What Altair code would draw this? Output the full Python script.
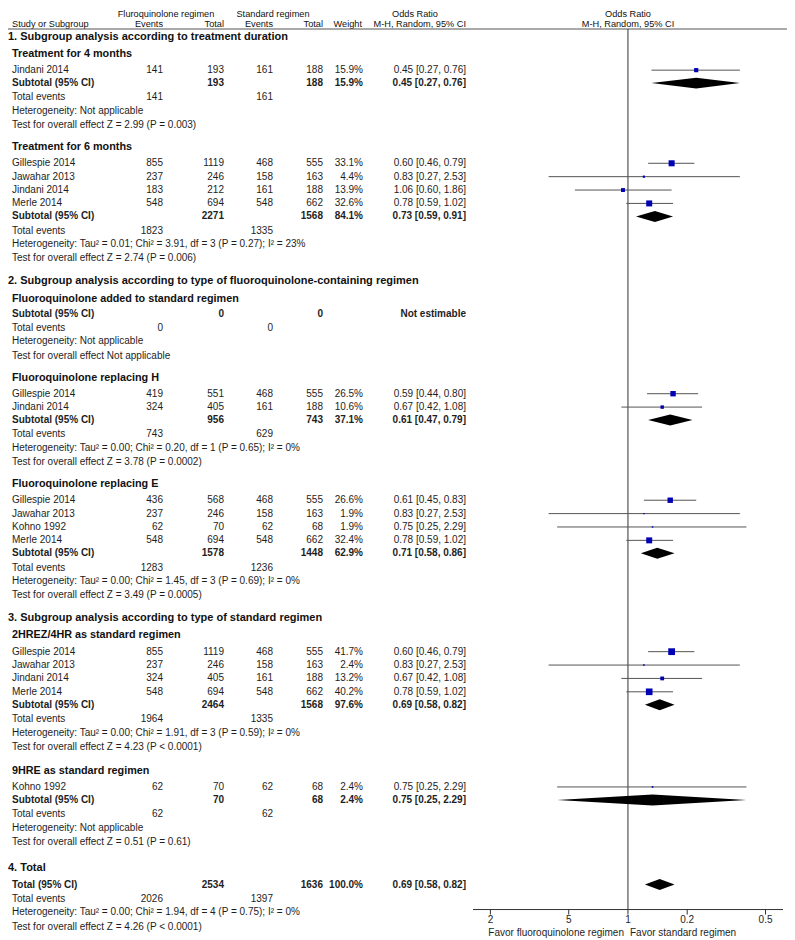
import altair as alt
import pandas as pd

# ------------------------------------------------------------------ data
section_titles = [
    "1. Subgroup analysis according to treatment duration",
    "2. Subgroup analysis according to type of fluoroquinolone-containing regimen",
    "3. Subgroup analysis according to type of standard regimen",
    "4. Total",
]
group_titles = [
    "Treatment for 4 months",
    "Treatment for 6 months",
    "Fluoroquinolone added to standard regimen",
    "Fluoroquinolone replacing H",
    "Fluoroquinolone replacing E",
    "2HREZ/4HR as standard regimen",
    "9HRE as standard regimen",
]
group_section = [0, 0, 1, 1, 1, 2, 2]

study_group = [0, 1, 1, 1, 1, 3, 3, 4, 4, 4, 4, 5, 5, 5, 5, 6]
study_names = ["Jindani 2014",
               "Gillespie 2014", "Jawahar 2013", "Jindani 2014", "Merle 2014",
               "Gillespie 2014", "Jindani 2014",
               "Gillespie 2014", "Jawahar 2013", "Kohno 1992", "Merle 2014",
               "Gillespie 2014", "Jawahar 2013", "Jindani 2014", "Merle 2014",
               "Kohno 1992"]
fq_events = [141, 855, 237, 183, 548, 419, 324, 436, 237, 62, 548, 855, 237, 324, 548, 62]
fq_total = [193, 1119, 246, 212, 694, 551, 405, 568, 246, 70, 694, 1119, 246, 405, 694, 70]
std_events = [161, 468, 158, 161, 548, 468, 161, 468, 158, 62, 548, 468, 158, 161, 548, 62]
std_total = [188, 555, 163, 188, 662, 555, 188, 555, 163, 68, 662, 555, 163, 188, 662, 68]
study_weight = [15.9, 33.1, 4.4, 13.9, 32.6, 26.5, 10.6, 26.6, 1.9, 1.9, 32.4, 41.7, 2.4, 13.2, 40.2, 2.4]
study_or = [0.45, 0.60, 0.83, 1.06, 0.78, 0.59, 0.67, 0.61, 0.83, 0.75, 0.78, 0.60, 0.83, 0.67, 0.78, 0.75]
study_lo = [0.27, 0.46, 0.27, 0.60, 0.59, 0.44, 0.42, 0.45, 0.27, 0.25, 0.59, 0.46, 0.27, 0.42, 0.59, 0.25]
study_hi = [0.76, 0.79, 2.53, 1.86, 1.02, 0.80, 1.08, 0.83, 2.53, 2.29, 1.02, 0.79, 2.53, 1.08, 1.02, 2.29]

sub_fq_total = [193, 2271, 0, 956, 1578, 2464, 70]
sub_std_total = [188, 1568, 0, 743, 1448, 1568, 68]
sub_weight = [15.9, 84.1, None, 37.1, 62.9, 97.6, 2.4]
sub_or = [0.45, 0.73, None, 0.61, 0.71, 0.69, 0.75]
sub_lo = [0.27, 0.59, None, 0.47, 0.58, 0.58, 0.25]
sub_hi = [0.76, 0.91, None, 0.79, 0.86, 0.82, 2.29]
sub_fq_events = [141, 1823, 0, 743, 1283, 1964, 62]
sub_std_events = [161, 1335, 0, 629, 1236, 1335, 62]
sub_het = [
    "Heterogeneity: Not applicable",
    "Heterogeneity: Tau\u00b2 = 0.01; Chi\u00b2 = 3.91, df = 3 (P = 0.27); I\u00b2 = 23%",
    "Heterogeneity: Not applicable",
    "Heterogeneity: Tau\u00b2 = 0.00; Chi\u00b2 = 0.20, df = 1 (P = 0.65); I\u00b2 = 0%",
    "Heterogeneity: Tau\u00b2 = 0.00; Chi\u00b2 = 1.45, df = 3 (P = 0.69); I\u00b2 = 0%",
    "Heterogeneity: Tau\u00b2 = 0.00; Chi\u00b2 = 1.91, df = 3 (P = 0.59); I\u00b2 = 0%",
    "Heterogeneity: Not applicable",
]
sub_test = [
    "Test for overall effect Z = 2.99 (P = 0.003)",
    "Test for overall effect Z = 2.74 (P = 0.006)",
    "Test for overall effect Not applicable",
    "Test for overall effect Z = 3.78 (P = 0.0002)",
    "Test for overall effect Z = 3.49 (P = 0.0005)",
    "Test for overall effect Z = 4.23 (P < 0.0001)",
    "Test for overall effect Z = 0.51 (P = 0.61)",
]

total_label = "Total (95% CI)"
total_fq_total = 2534
total_std_total = 1636
total_weight = 100.0
total_or, total_lo, total_hi = 0.69, 0.58, 0.82
total_fq_events = 2026
total_std_events = 1397
total_het = "Heterogeneity: Tau\u00b2 = 0.00; Chi\u00b2 = 1.94, df = 4 (P = 0.75); I\u00b2 = 0%"
total_test = "Test for overall effect Z = 4.26 (P < 0.0001)"

tick_values = [5, 2, 1, 0.5, 0.2]
tick_labels = ["2", "5", "1", "0.2", "0.5"]
favor_left = "Favor fluoroquinolone regimen"
favor_right = "Favor standard regimen"

# ------------------------------------------------------------------ layout
GAP = {("sec", "sub"): 17.5, ("sub", "study"): 16.2, ("study", "study"): 13.4,
       ("study", "subtotal"): 13, ("sub", "subtotal"): 15, ("subtotal", "events"): 14.2,
       ("total", "events"): 14.2, ("events", "het"): 13.6, ("het", "test"): 14.3,
       ("test", "sub"): 22, ("test", "sec"): 22.7, ("sec", "total"): 17}
SEC_EXTRA = [0, 0, 0, 3]
GROUP_EXTRA = [0, 0, 0, 0, 0, 0, 2]
FIRST_Y = 34.5

rows = []
state = {"y": None, "prev": None}


def fmt_or(o, lo, hi):
    return f"{o:.2f} [{lo:.2f}, {hi:.2f}]"


def add(kind, label="", fqE="", fqT="", stE="", stT="", wt="", ortxt="", extra_gap=0, **extra):
    if state["y"] is None:
        state["y"] = FIRST_Y
    else:
        state["y"] += GAP[(state["prev"], kind)] + extra_gap
    state["prev"] = kind
    r = dict(y=state["y"], kind=kind, label=label, fqE=str(fqE), fqT=str(fqT),
             stE=str(stE), stT=str(stT), wt=wt, ortxt=ortxt)
    r.update(extra)
    rows.append(r)


cur_sec = None
for g, title in enumerate(group_titles):
    if group_section[g] != cur_sec:
        cur_sec = group_section[g]
        add("sec", section_titles[cur_sec], extra_gap=SEC_EXTRA[cur_sec])
    add("sub", title, extra_gap=GROUP_EXTRA[g])
    for i, sg in enumerate(study_group):
        if sg != g:
            continue
        add("study", study_names[i], fq_events[i], fq_total[i], std_events[i], std_total[i],
            f"{study_weight[i]:.1f}%", fmt_or(study_or[i], study_lo[i], study_hi[i]),
            est=study_or[i], lo=study_lo[i], hi=study_hi[i], w=study_weight[i])
    if sub_or[g] is None:
        add("subtotal", "Subtotal (95% CI)", "", sub_fq_total[g], "", sub_std_total[g],
            "", "Not estimable")
    else:
        add("subtotal", "Subtotal (95% CI)", "", sub_fq_total[g], "", sub_std_total[g],
            f"{sub_weight[g]:.1f}%", fmt_or(sub_or[g], sub_lo[g], sub_hi[g]),
            est=sub_or[g], lo=sub_lo[g], hi=sub_hi[g])
    add("events", "Total events", sub_fq_events[g], "", sub_std_events[g])
    add("het", sub_het[g])
    add("test", sub_test[g])

add("sec", section_titles[3], extra_gap=SEC_EXTRA[3])
add("total", total_label, "", total_fq_total, "", total_std_total, f"{total_weight:.1f}%",
    fmt_or(total_or, total_lo, total_hi), est=total_or, lo=total_lo, hi=total_hi)
add("events", "Total events", total_fq_events, "", total_std_events)
add("het", total_het)
add("test", total_test)

df = pd.DataFrame(rows)

HEADER1_Y, HEADER2_Y, HEADER_LINE_Y = 6, 20, 25
AXIS_Y, TICK_LABEL_Y, FAVOR_Y = 909, 919, 932

W, H = 779, 932
yscale = alt.Scale(domain=[6, 20, 25, 35, 933], range=[6, 16, 21, 29, 925.5],
                   zero=False, nice=False)
xscale = alt.Scale(type="log", domain=[6.13, 0.163], range=[465, 775], nice=False, zero=False)
Y = alt.Y("y:Q", scale=yscale, axis=None)

TXT = "#1e1e1e"
FONT = "Liberation Sans"
HFONT = "Liberation Sans"

# column x positions (px)
X_NAME, X_FQE, X_FQT, X_STE, X_STT, X_WT, X_OR = 4, 155, 216, 265, 315, 355, 458
X_NULL = 620

layers = []
bold_kinds = ["subtotal", "total"]


def txt_layer(data, field, x, align, bold, font=FONT, size=10, color=TXT):
    return alt.Chart(data).mark_text(
        align=align, baseline="middle", font=font, fontSize=size,
        fontWeight="bold" if bold else "normal", color=color
    ).encode(x=alt.value(x), y=Y, text=f"{field}:N")


normal = df[df.kind.isin(["study", "events", "het", "test"])]
boldrows = df[df.kind.isin(bold_kinds)]
for part, isb in [(normal, False), (boldrows, True)]:
    layers.append(txt_layer(part, "label", X_NAME, "left", isb))
    for field, x in [("fqE", X_FQE), ("fqT", X_FQT), ("stE", X_STE), ("stT", X_STT),
                     ("wt", X_WT), ("ortxt", X_OR)]:
        layers.append(txt_layer(part, field, x, "right", isb))

layers.append(txt_layer(df[df.kind == "sec"], "label", 0, "left", True, HFONT, 11, "#111"))
layers.append(txt_layer(df[df.kind == "sub"], "label", 4, "left", True, HFONT, 10.8, "#111"))

# headers
hdr = pd.DataFrame([
    dict(y=HEADER1_Y, t="Fluroquinolone regimen", x=158, a="center"),
    dict(y=HEADER1_Y, t="Standard regimen", x=265, a="center"),
    dict(y=HEADER1_Y, t="Odds Ratio", x=407, a="center"),
    dict(y=HEADER1_Y, t="Odds Ratio", x=X_NULL, a="center"),
    dict(y=HEADER2_Y, t="Study or Subgroup", x=X_NAME, a="left"),
    dict(y=HEADER2_Y, t="Events", x=X_FQE, a="right"),
    dict(y=HEADER2_Y, t="Total", x=X_FQT, a="right"),
    dict(y=HEADER2_Y, t="Events", x=X_STE, a="right"),
    dict(y=HEADER2_Y, t="Total", x=X_STT, a="right"),
    dict(y=HEADER2_Y, t="Weight", x=X_WT - 1, a="right"),
    dict(y=HEADER2_Y, t="M-H, Random, 95% CI", x=X_OR, a="right"),
    dict(y=HEADER2_Y, t="M-H, Random, 95% CI", x=X_NULL, a="center"),
])
for (xv, av), part in hdr.groupby(["x", "a"]):
    layers.append(alt.Chart(part).mark_text(
        align=av, baseline="middle", font=FONT, fontSize=9.2, fontWeight="normal", color="#111"
    ).encode(x=alt.value(xv), y=Y, text="t:N"))

# header underline
layers.append(alt.Chart(pd.DataFrame({"y": [HEADER_LINE_Y]})).mark_rule(
    color="#555", strokeWidth=1).encode(x=alt.value(0), x2=alt.value(W), y=Y))

# null line
layers.append(alt.Chart(pd.DataFrame({"x": [1], "y": [HEADER_LINE_Y], "y2": [AXIS_Y]})).mark_rule(
    color="#333", strokeWidth=1).encode(x=alt.X("x:Q", scale=xscale, axis=None), y=Y, y2="y2:Q"))

# study CI lines and squares
st = df[df.kind == "study"]
layers.append(alt.Chart(st).mark_rule(color="#555", strokeWidth=1).encode(
    x=alt.X("lo:Q", scale=xscale, axis=None), x2="hi:Q", y=Y))
layers.append(alt.Chart(st).mark_square(color="#0000b4", opacity=1).encode(
    x=alt.X("est:Q", scale=xscale, axis=None), y=Y,
    size=alt.Size("w:Q", scale=alt.Scale(domain=[0, 100], range=[0, 110]), legend=None)))

# diamonds
HALF = 5.5
dia = []
for i, r in df[df.kind.isin(bold_kinds)].dropna(subset=["est"]).iterrows():
    dia += [dict(id=i, x=r.lo, y=r.y, y2=r.y),
            dict(id=i, x=r.est, y=r.y - HALF, y2=r.y + HALF),
            dict(id=i, x=r.hi, y=r.y, y2=r.y)]
layers.append(alt.Chart(pd.DataFrame(dia)).mark_area(color="black", interpolate="linear").encode(
    x=alt.X("x:Q", scale=xscale, axis=None), y=Y, y2="y2:Q", detail="id:N"))

# bottom axis
ax = pd.DataFrame({"x": [6.13], "x2": [0.163], "y": [AXIS_Y]})
layers.append(alt.Chart(ax).mark_rule(color="#333").encode(
    x=alt.X("x:Q", scale=xscale, axis=None), x2="x2:Q", y=Y))
ticks = pd.DataFrame({"x": tick_values, "lab": tick_labels, "y": AXIS_Y, "y2": AXIS_Y + 5,
                      "ly": TICK_LABEL_Y})
layers.append(alt.Chart(ticks).mark_rule(color="#333").encode(
    x=alt.X("x:Q", scale=xscale, axis=None), y=Y, y2="y2:Q"))
layers.append(alt.Chart(ticks).mark_text(font=FONT, fontSize=10, color=TXT, baseline="middle").encode(
    x=alt.X("x:Q", scale=xscale, axis=None), y=alt.Y("ly:Q", scale=yscale, axis=None), text="lab:N"))
fav = pd.DataFrame({"x": [1, 1], "y": [FAVOR_Y, FAVOR_Y], "t": [favor_left, favor_right]})
layers.append(alt.Chart(fav.iloc[[0]]).mark_text(font=FONT, fontSize=10, color=TXT, align="right",
                                                 baseline="middle", dx=-4).encode(
    x=alt.X("x:Q", scale=xscale, axis=None), y=Y, text="t:N"))
layers.append(alt.Chart(fav.iloc[[1]]).mark_text(font=FONT, fontSize=10, color=TXT, align="left",
                                                 baseline="middle", dx=2).encode(
    x=alt.X("x:Q", scale=xscale, axis=None), y=Y, text="t:N"))

chart = alt.layer(*layers).properties(
    width=W, height=H, padding=0, autosize="none", background="white"
).configure_view(stroke=None)

chart.save("out.html", embed_options={"renderer": "svg", "actions": False})
